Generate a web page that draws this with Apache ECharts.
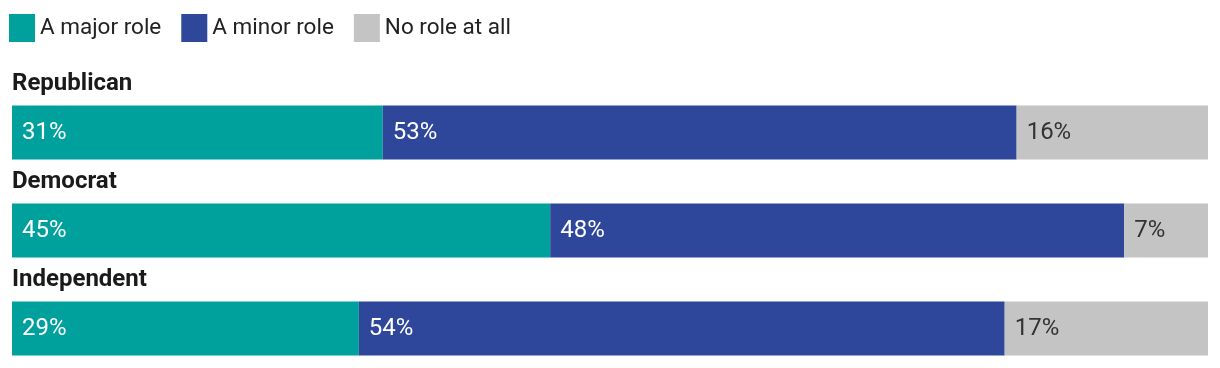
<!DOCTYPE html>
<html><head><meta charset="utf-8">
<script src="https://cdn.jsdelivr.net/npm/echarts@6/dist/echarts.min.js"></script>
<style>html,body{margin:0;padding:0;background:#fff}#c{width:1220px;height:368px}</style>
</head><body><div id="c"></div>
<script>
const categories = ['Republican', 'Democrat', 'Independent'];
const seriesNames = ['A major role', 'A minor role', 'No role at all'];
const majorRole = [31, 45, 29];
const minorRole = [53, 48, 54];
const noRole = [16, 7, 17];
const colors = ['#00a09d', '#2e479b', '#c4c4c4'];
const labelColors = ['#ffffff', '#ffffff', '#333333'];

const values = [majorRole, minorRole, noRole];
const chart = echarts.init(document.getElementById('c'), null, {renderer: 'canvas'});
chart.setOption({
  animation: false,
  textStyle: {fontFamily: 'Roboto'},
  legend: {
    left: 9, top: 14, padding: 0, itemWidth: 26, itemHeight: 28, itemGap: 20, icon: 'rect',
    textStyle: {fontSize: 22.5, color: '#222', fontFamily: 'Roboto'},
    data: seriesNames
  },
  grid: {left: 12, right: 12, top: 132.5, bottom: 39.5, containLabel: false},
  xAxis: {type: 'value', min: 0, max: 100, show: false},
  yAxis: {
    type: 'category', data: categories, inverse: true, boundaryGap: false,
    axisLine: {show: false}, axisTick: {show: false}, splitLine: {show: false},
    axisLabel: {
      inside: true, margin: 0, align: 'left', verticalAlign: 'bottom',
      fontSize: 24, fontWeight: 'bold', color: '#1a1a1a', fontFamily: 'Roboto',
      lineHeight: 28, padding: [0, 0, 35, 0]
    }
  },
  series: seriesNames.map((n, i) => ({
    name: n, type: 'bar', stack: 'all', barWidth: 54,
    itemStyle: {color: colors[i]},
    label: {
      show: true, position: 'insideLeft', distance: 10,
      formatter: p => p.value + '%',
      color: labelColors[i], fontSize: 24, fontFamily: 'Roboto'
    },
    data: values[i]
  }))
});
</script></body></html>
